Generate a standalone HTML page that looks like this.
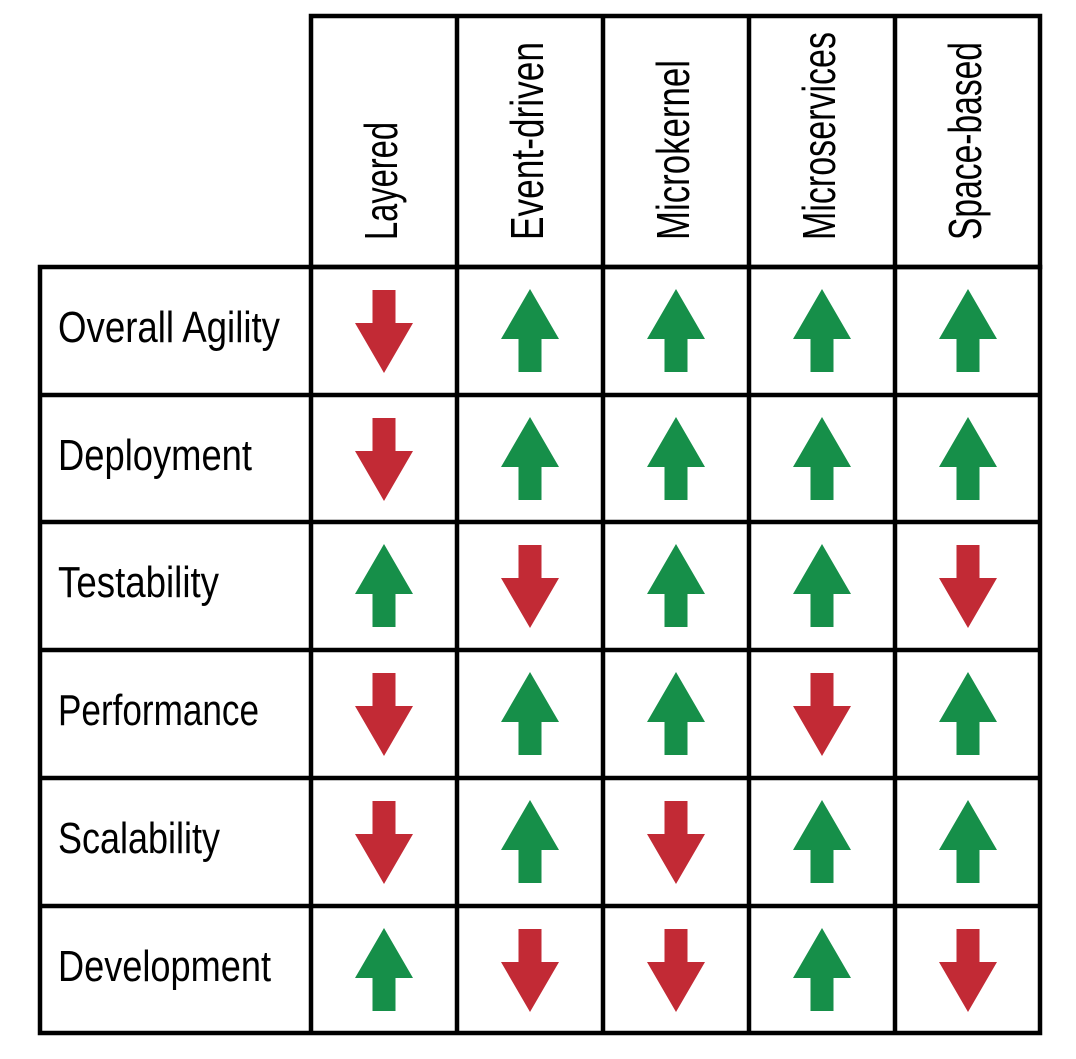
<!DOCTYPE html>
<html><head><style>html,body{margin:0;padding:0;background:#fff}</style></head>
<body>
<svg width="1076" height="1054" xmlns="http://www.w3.org/2000/svg" font-family="Liberation Sans, sans-serif">
<defs>
<path id="dn" d="M-11.5,-41 H11.5 V-8 H29 L0,42 L-29,-8 H-11.5 Z" fill="#c22a35"/>
<path id="up" d="M-11.5,41 H11.5 V8 H29 L0,-42 L-29,8 H-11.5 Z" fill="#168f49"/>
</defs>
<g stroke="#000" stroke-width="4.5" fill="none">
<rect x="311" y="16" width="729" height="251"/>
<rect x="40" y="267" width="1000" height="766"/>
<line x1="457" y1="16" x2="457" y2="1033"/>
<line x1="603" y1="16" x2="603" y2="1033"/>
<line x1="749" y1="16" x2="749" y2="1033"/>
<line x1="895" y1="16" x2="895" y2="1033"/>
<line x1="311" y1="267" x2="311" y2="1033"/>
<line x1="40" y1="395" x2="1040" y2="395"/>
<line x1="40" y1="522" x2="1040" y2="522"/>
<line x1="40" y1="650" x2="1040" y2="650"/>
<line x1="40" y1="778" x2="1040" y2="778"/>
<line x1="40" y1="906" x2="1040" y2="906"/>
</g>
<g font-size="46" fill="#000" lengthAdjust="spacingAndGlyphs">
<text transform="translate(397,240) rotate(-90)" textLength="118" lengthAdjust="spacingAndGlyphs">Layered</text>
<text transform="translate(543,240) rotate(-90)" textLength="198" lengthAdjust="spacingAndGlyphs">Event-driven</text>
<text transform="translate(689,240) rotate(-90)" textLength="180" lengthAdjust="spacingAndGlyphs">Microkernel</text>
<text transform="translate(835,240) rotate(-90)" textLength="208" lengthAdjust="spacingAndGlyphs">Microservices</text>
<text transform="translate(981,240) rotate(-90)" textLength="198" lengthAdjust="spacingAndGlyphs">Space-based</text>
</g>
<g font-size="44" fill="#000">
<text x="58" y="342" textLength="222" lengthAdjust="spacingAndGlyphs">Overall Agility</text>
<text x="58" y="470" textLength="194" lengthAdjust="spacingAndGlyphs">Deployment</text>
<text x="58" y="597" textLength="161" lengthAdjust="spacingAndGlyphs">Testability</text>
<text x="58" y="725" textLength="201" lengthAdjust="spacingAndGlyphs">Performance</text>
<text x="58" y="853" textLength="162" lengthAdjust="spacingAndGlyphs">Scalability</text>
<text x="58" y="981" textLength="213" lengthAdjust="spacingAndGlyphs">Development</text>
</g>
<!-- rows: centers 331,459,586,714,842,970; cols 384,530,676,822,968 -->
<use href="#dn" x="384" y="331"/><use href="#up" x="530" y="331"/><use href="#up" x="676" y="331"/><use href="#up" x="822" y="331"/><use href="#up" x="968" y="331"/>
<use href="#dn" x="384" y="459"/><use href="#up" x="530" y="459"/><use href="#up" x="676" y="459"/><use href="#up" x="822" y="459"/><use href="#up" x="968" y="459"/>
<use href="#up" x="384" y="586"/><use href="#dn" x="530" y="586"/><use href="#up" x="676" y="586"/><use href="#up" x="822" y="586"/><use href="#dn" x="968" y="586"/>
<use href="#dn" x="384" y="714"/><use href="#up" x="530" y="714"/><use href="#up" x="676" y="714"/><use href="#dn" x="822" y="714"/><use href="#up" x="968" y="714"/>
<use href="#dn" x="384" y="842"/><use href="#up" x="530" y="842"/><use href="#dn" x="676" y="842"/><use href="#up" x="822" y="842"/><use href="#up" x="968" y="842"/>
<use href="#up" x="384" y="970"/><use href="#dn" x="530" y="970"/><use href="#dn" x="676" y="970"/><use href="#up" x="822" y="970"/><use href="#dn" x="968" y="970"/>
</svg>
</body></html>
